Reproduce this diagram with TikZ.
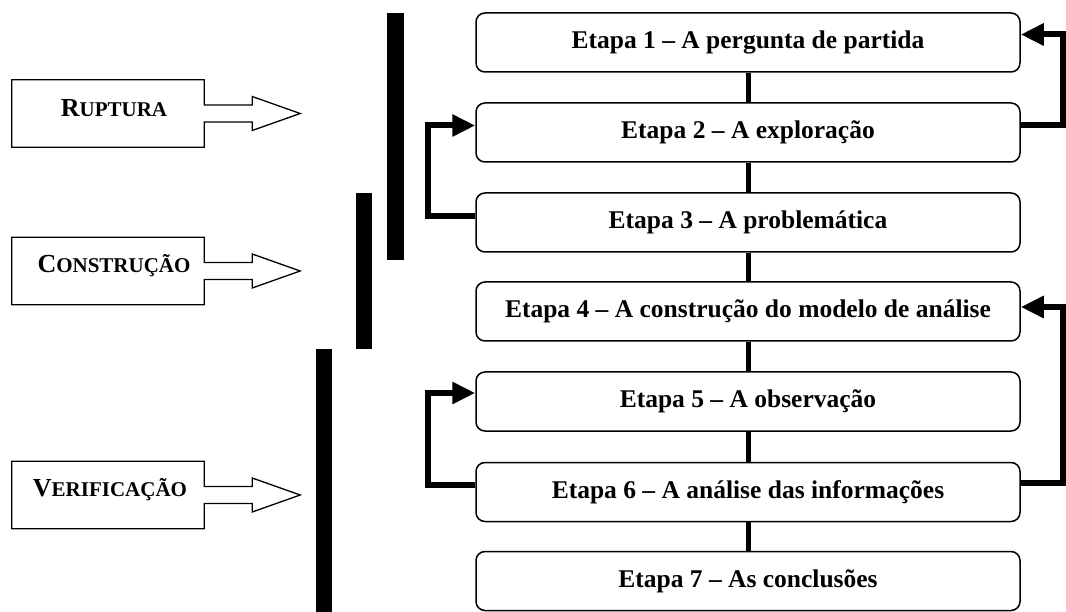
\documentclass[tikz,border=0pt]{standalone}
\usepackage{fontspec}
\setmainfont{Liberation Serif}
\usetikzlibrary{arrows.meta,calc}
\begin{document}
\begin{tikzpicture}[x=1pt,y=-1pt,
  stepbox/.style={draw,line width=1.5pt,rounded corners=9pt,minimum width=544pt,minimum height=59pt,inner sep=0pt,font=\fontsize{25.5}{28}\selectfont\bfseries},
  phasebox/.style={minimum width=192pt,minimum height=67pt,inner sep=0pt,font=\bfseries},
  phaselabel/.style={inner sep=0pt,font=\bfseries},
  phaseline/.style={line width=1.3pt,line join=miter},
  conn/.style={line width=5pt},
  fb/.style={line width=6pt,-{Triangle[length=23pt,width=21pt]}},
  bar/.style={fill=black,draw=none}
]
\useasboundingbox (0,0) rectangle (1066,612);

% phase bars
\fill[bar] (387,13) rectangle (404,260);
\fill[bar] (356,193) rectangle (372,349);
\fill[bar] (316,349) rectangle (332,612);

% step boxes
\node[stepbox] (b1) at (748,42.5) {Etapa 1 -- A pergunta de partida};
\node[stepbox] (b2) at (748,132.5) {Etapa 2 -- A exploração};
\node[stepbox] (b3) at (748,222.5) {Etapa 3 -- A problemática};
\node[stepbox] (b4) at (748,311.5) {Etapa 4 -- A construção do modelo de análise};
\node[stepbox] (b5) at (748,401.5) {Etapa 5 -- A observação};
\node[stepbox] (b6) at (748,492) {Etapa 6 -- A análise das informações};
\node[stepbox] (b7) at (748,581) {Etapa 7 -- As conclusões};

% connectors
\draw[conn] (b1.south) -- (b2.north);
\draw[conn] (b2.south) -- (b3.north);
\draw[conn] (b3.south) -- (b4.north);
\draw[conn] (b4.south) -- (b5.north);
\draw[conn] (b5.south) -- (b6.north);
\draw[conn] (b6.south) -- (b7.north);

% feedback arrows
\draw[fb] ($(b2.east)+(0,-7)$) -- ++(42,0) |- ($(b1.east)+(0,-8)$);
\draw[fb] ($(b3.west)+(0,-6.5)$) -- ++(-47,0) |- ($(b2.west)+(0,-7)$);
\draw[fb] ($(b6.west)+(0,-7)$) -- ++(-47,0) |- ($(b5.west)+(0,-8.5)$);
\draw[fb] ($(b6.east)+(0,-9)$) -- ++(42,0) |- ($(b4.east)+(0,-4.5)$);

% phase boxes with block arrows
\node[phasebox] (r) at (108,113.5) {};
\node[phasebox] (c) at (108,271) {};
\node[phasebox] (v) at (108,495) {};
\node[phaselabel] (rl) at (114,108) {{\fontsize{26}{26}\selectfont R}{\fontsize{21}{21}\selectfont UPTURA}};
\node[phaselabel] (cl) at (114,266) {{\fontsize{26}{26}\selectfont C}{\fontsize{21}{21}\selectfont ONSTRUÇÃO}};
\node[phaselabel] (vl) at (110,490) {{\fontsize{26}{26}\selectfont V}{\fontsize{21}{21}\selectfont ERIFICAÇÃO}};
\foreach \n in {r,c,v}{
  \draw[phaseline] (\n.north west) -- (\n.north east) -- ($(\n.east)+(0,-8.5)$) -- ++(48,0) -- ++(0,-8.5) -- ++(48,17) -- ++(-48,17) -- ++(0,-8.5) -- ++(-48,0) -- (\n.south east) -- (\n.south west) -- cycle;
}
\end{tikzpicture}
\end{document}
